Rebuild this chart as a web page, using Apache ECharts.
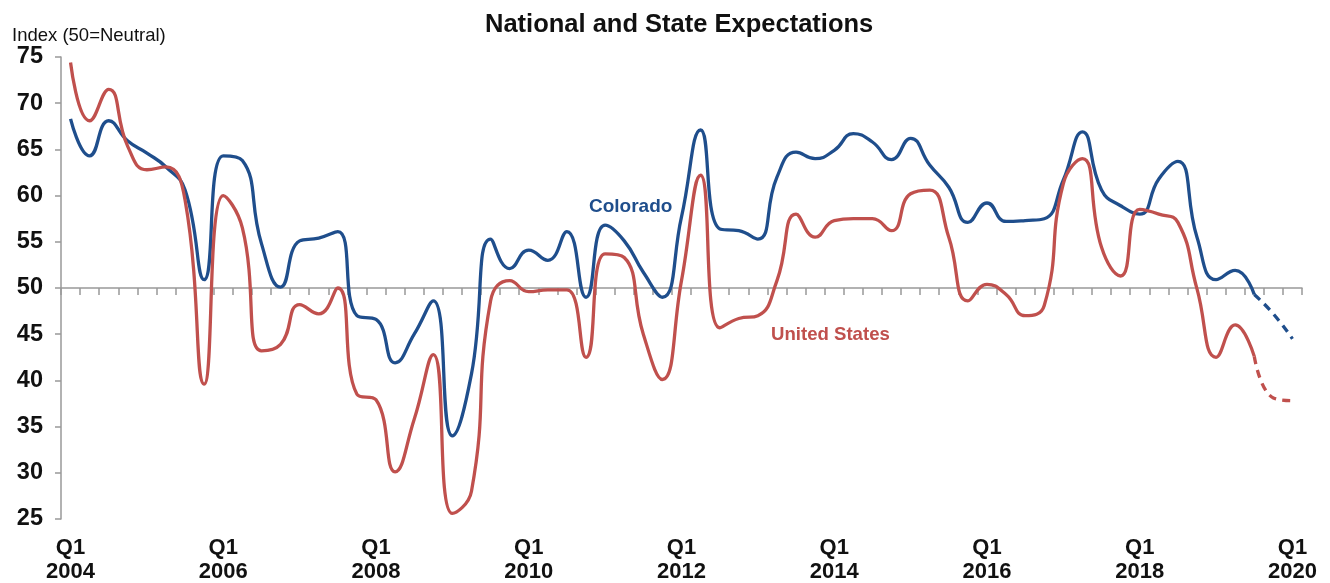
<!DOCTYPE html>
<html>
<head>
<meta charset="utf-8">
<script src="https://cdn.jsdelivr.net/npm/echarts@6/dist/echarts.min.js"></script>
<style>
  html, body { margin: 0; padding: 0; background: #fff; }
  #chart { width: 1330px; height: 583px; }
</style>
</head>
<body>
<div id="chart"></div>
<script>
// quarters Q1 2004 .. Q1 2020
const years = [2004, 2005, 2006, 2007, 2008, 2009, 2010, 2011, 2012, 2013, 2014, 2015, 2016, 2017, 2018, 2019, 2020]
const quarters = ['Q1', 'Q2', 'Q3', 'Q4']
const categories = []
years.forEach(y => {
  quarters.forEach(q => {
    if (y < 2020 || q === 'Q1') categories.push(q + ' ' + y)
  })
})

// Colorado index, Q1 2004 .. Q3 2019 (actual)
const coloradoActual = [
  68.3, 64.3, 68.1, 65.9, 64.6, 63.1, 60.6, 50.9, 64.3, 63.8,
  54.8, 50.1, 55.1, 55.4, 56.1, 47.0, 46.6, 41.9, 45.0, 48.6,
  34.0, 40.7, 55.3, 52.1, 54.1, 53.0, 56.1, 49.0, 56.8, 55.1,
  51.7, 49.0, 57.7, 67.1, 56.4, 56.2, 55.3, 62.0, 64.7, 64.0,
  64.9, 66.7, 65.8, 63.9, 66.2, 63.3, 60.9, 57.1, 59.2, 57.2,
  57.3, 57.5, 61.7, 66.9, 60.6, 58.9, 58.0, 61.8, 63.7, 55.5,
  50.9, 51.9, 49.3
]
// Colorado expected, Q4 2019 .. Q1 2020 (dashed)
const coloradoForecast = [47.2, 44.5]

// United States index, Q1 2004 .. Q3 2019 (actual)
const usActual = [
  74.4, 68.1, 71.5, 65.3, 62.8, 63.1, 59.5, 39.6, 60.0, 56.5,
  43.2, 43.9, 48.2, 47.2, 50.0, 38.5, 37.9, 30.1, 35.8, 42.8,
  25.6, 28.0, 48.6, 50.8, 49.6, 49.8, 49.8, 42.5, 53.7, 53.3,
  45.0, 40.1, 50.8, 62.2, 45.7, 46.7, 47.0, 50.8, 58.0, 55.5,
  57.3, 57.5, 57.5, 56.2, 60.2, 60.6, 55.5, 48.6, 50.4, 49.3,
  47.0, 48.1, 61.3, 64.0, 54.4, 51.3, 58.5, 58.0, 57.1, 49.9,
  42.5, 46.0, 42.6
]
// United States expected, Q4 2019 .. Q1 2020 (dashed)
const usForecast = [38.1, 37.8]

const yTicks = [25, 30, 35, 40, 45, 50, 55, 60, 65, 70, 75]

const blue = '#1f4e8c'
const red = '#c0504d'
const font = 'Liberation Sans, Arial, sans-serif'

// solid part ends where the dashed part starts
const solid = arr => arr.concat(categories.slice(arr.length).map(() => null))
const dashed = (actual, fc) => actual.map((v, i) => (i === actual.length - 1 ? v : null)).concat(fc)

const gridTop = 57
const gridHeight = 462

const myChart = echarts.init(document.getElementById('chart'))
const option = {
  animation: false,
  backgroundColor: '#fff',
  title: {
    text: 'National and State Expectations',
    left: 480,
    top: 7,
    textStyle: { fontFamily: font, fontSize: 25.5, fontWeight: 'bold', color: '#111' }
  },
  graphic: [
    {
      type: 'text',
      left: 12,
      top: 26,
      style: { text: 'Index (50=Neutral)', font: '18.5px ' + font, fill: '#111' }
    },
    {
      type: 'text',
      left: 589,
      top: 197,
      style: { text: 'Colorado', font: 'bold 19px ' + font, fill: blue }
    },
    {
      type: 'text',
      left: 771,
      top: 325,
      style: { text: 'United States', font: 'bold 18.6px ' + font, fill: red }
    }
  ],
  grid: {
    left: 61,
    right: 28,
    top: gridTop,
    height: gridHeight,
    containLabel: false,
    outerBoundsMode: 'none'
  },
  xAxis: [
    {
      // labels along the bottom
      type: 'category',
      data: categories,
      boundaryGap: true,
      position: 'bottom',
      axisLine: { show: false },
      axisTick: { show: false },
      axisLabel: {
        interval: 7,
        margin: 17,
        fontFamily: font,
        fontSize: 22,
        fontWeight: 'bold',
        color: '#111',
        lineHeight: 24,
        formatter: v => v.replace(' ', '\n')
      },
      splitLine: { show: false }
    },
    {
      // the 50 (neutral) line with quarter ticks
      type: 'category',
      data: categories,
      boundaryGap: true,
      position: 'bottom',
      offset: -gridHeight / 2,
      axisLine: { show: true, lineStyle: { color: '#999', width: 1.5 } },
      axisTick: { show: true, interval: 0, length: 7, lineStyle: { color: '#999', width: 1.5 } },
      axisLabel: { show: false },
      splitLine: { show: false }
    }
  ],
  yAxis: {
    type: 'value',
    min: yTicks[0],
    max: yTicks[yTicks.length - 1],
    interval: 5,
    axisLine: { show: true, lineStyle: { color: '#999', width: 1.5 } },
    axisTick: { show: true, length: 6, lineStyle: { color: '#999', width: 1.5 } },
    axisLabel: {
      margin: 18,
      fontFamily: font,
      fontSize: 23.5,
      fontWeight: 'bold',
      color: '#111'
    },
    splitLine: { show: false }
  },
  series: [
    {
      name: 'Colorado',
      type: 'line',
      xAxisIndex: 0,
      smooth: 0.5,
      symbol: 'none',
      color: blue,
      lineStyle: { width: 3.3 },
      data: solid(coloradoActual)
    },
    {
      name: 'Colorado expected',
      type: 'line',
      xAxisIndex: 0,
      smooth: 0.5,
      symbol: 'none',
      color: blue,
      lineStyle: { width: 3.3, type: [8, 6] },
      data: dashed(coloradoActual, coloradoForecast)
    },
    {
      name: 'United States',
      type: 'line',
      xAxisIndex: 0,
      smooth: 0.5,
      symbol: 'none',
      color: red,
      lineStyle: { width: 3.3 },
      data: solid(usActual)
    },
    {
      name: 'United States expected',
      type: 'line',
      xAxisIndex: 0,
      smooth: 0.5,
      symbol: 'none',
      color: red,
      lineStyle: { width: 3.3, type: [8, 6] },
      data: dashed(usActual, usForecast)
    }
  ]
}
myChart.setOption(option)
</script>
</body>
</html>
